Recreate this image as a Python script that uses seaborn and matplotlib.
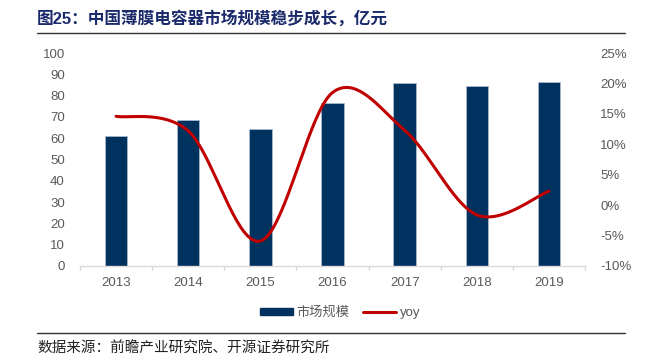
import numpy as np
import pandas as pd
import seaborn as sns
import matplotlib.pyplot as plt
from matplotlib.lines import Line2D
from matplotlib.patches import Patch
from matplotlib.ticker import FuncFormatter

# data
years = ["2013", "2014", "2015", "2016", "2017", "2018", "2019"]
market_size = [61.2, 68.6, 64.5, 76.6, 85.8, 84.6, 86.6]   # 亿元
yoy = [14.6, 12.2, -5.9, 18.5, 12.3, -1.6, 2.3]             # %

sns.set_theme(style="white")
plt.rcParams['font.family'] = ['Liberation Sans', 'Noto Sans CJK SC', 'DejaVu Sans']

bar_color = "#00325F"
line_color = "#C00000"
grey = "#595959"

df = pd.DataFrame({"year": years, "size": market_size, "yoy": yoy})

fig = plt.figure(figsize=(6.6, 3.61), dpi=100)
ax = fig.add_axes([80 / 660, 1 - 266 / 361, 505 / 660, 213 / 361])

sns.barplot(data=df, x="year", y="size", color=bar_color, width=0.31,
            edgecolor="#A9B8CC", linewidth=0.6, saturation=1, ax=ax)
ax.set_ylim(0, 100)
ax.set_yticks(range(0, 101, 10))
ax.set_xlim(-0.5, len(years) - 0.5)
ax.set_xlabel("")
ax.set_ylabel("")
ax.tick_params(axis="y", length=0, labelsize=9.5, labelcolor=grey, pad=11)
ax.tick_params(axis="x", length=0, labelsize=9.5, labelcolor=grey, pad=8)
for s in ["top", "right", "left"]:
    ax.spines[s].set_visible(False)
ax.spines["bottom"].set_color("#D9D9D9")
ax.spines["bottom"].set_linewidth(1)
# category separators below the axis
for b in np.arange(-0.5, len(years), 1.0):
    ax.plot([b, b], [0, -1.8], color="#D9D9D9", lw=1, clip_on=False)


def smooth(xs, ys, n=40):
    # Catmull-Rom style smoothing like spreadsheet "smoothed line"
    xs = np.asarray(xs, float)
    ys = np.asarray(ys, float)
    px = np.concatenate([[xs[0]], xs, [xs[-1]]])
    py = np.concatenate([[ys[0]], ys, [ys[-1]]])
    outx, outy = [], []
    t = np.linspace(0, 1, n)
    for i in range(1, len(px) - 2):
        p0, p1, p2, p3 = (np.array([px[j], py[j]]) for j in range(i - 1, i + 3))
        c1 = p1 + (p2 - p0) / 6
        c2 = p2 - (p3 - p1) / 6
        for tt in t:
            pt = ((1 - tt) ** 3) * p1 + 3 * ((1 - tt) ** 2) * tt * c1 \
                + 3 * (1 - tt) * tt ** 2 * c2 + tt ** 3 * p2
            outx.append(pt[0])
            outy.append(pt[1])
    return np.array(outx), np.array(outy)


ax2 = ax.twinx()
sx, sy = smooth(range(len(years)), yoy)
ax2.plot(sx, sy, color=line_color, lw=2.2, solid_capstyle="round")
ax2.set_ylim(-10, 25)
ax2.set_yticks(range(-10, 26, 5))
ax2.yaxis.set_major_formatter(FuncFormatter(lambda v, p: f"{v:.0f}%"))
ax2.tick_params(axis="y", length=0, labelsize=9.5, labelcolor=grey, pad=11)
for s in ["top", "right", "left", "bottom"]:
    ax2.spines[s].set_visible(False)
ax2.grid(False)
ax.grid(False)

handles = [Patch(facecolor=bar_color, edgecolor=bar_color),
           Line2D([0], [0], color=line_color, lw=2.2)]
fig.legend(handles, ["市场规模", "yoy"], loc="center", bbox_to_anchor=(0.515, 1 - 313 / 361),
           ncol=2, frameon=False, fontsize=9.5, labelcolor=grey,
           handlelength=2.5, handleheight=0.5, columnspacing=1.0, handletextpad=0.3)

# title and footer
fig.text(37 / 660, 1 - 18 / 361, "图25：中国薄膜电容器市场规模稳步成长，亿元",
         fontsize=12, fontweight="bold", color="#1B2A6B", va="center", ha="left")
fig.add_artist(Line2D([37 / 660, 625 / 660], [1 - 33 / 361, 1 - 33 / 361],
                      color="#333333", lw=1))
fig.add_artist(Line2D([37 / 660, 625 / 660], [1 - 333 / 361, 1 - 333 / 361],
                      color="#333333", lw=1))
fig.text(37 / 660, 1 - 349 / 361, "数据来源：前瞻产业研究院、开源证券研究所",
         fontsize=10.5, color="#222222", va="center", ha="left")

fig.savefig("out.png", dpi=100)
